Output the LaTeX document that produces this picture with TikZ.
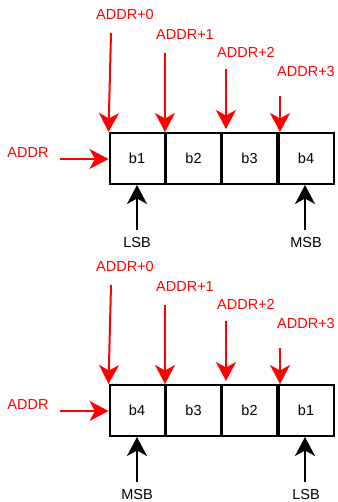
\documentclass[tikz,border=0pt]{standalone}
\usepackage{fontspec}
\setmainfont{Liberation Sans}
\usetikzlibrary{arrows.meta}
\tikzset{
  cell/.style={draw=black, fill=white, line width=2pt, minimum width=55pt, minimum height=51pt, inner sep=0pt, font=\fontsize{14.5}{16}\selectfont},
  redlbl/.style={text=red, font=\fontsize{14.5}{16}\selectfont, inner sep=0pt},
  blklbl/.style={text=black, font=\fontsize{14.5}{16}\selectfont, inner sep=0pt},
  redarr/.style={draw=red, line width=2pt, -{Stealth[length=19pt,width=20pt,inset=5.5pt]}},
  blkarr/.style={draw=black, line width=2pt, -{Stealth[length=19pt,width=20pt,inset=5.5pt]}}
}
\begin{document}
\begin{tikzpicture}[x=1pt,y=-1pt]
\useasboundingbox (0,0) rectangle (337,502);
% ---------- top row ----------
\node[cell] (t1) at (137,158.5) {b1};
\node[cell] (t2) at (193.5,158.5) {b2};
\node[cell] (t3) at (249.5,158.5) {b3};
\node[cell] (t4) at (306,158.5) {b4};
\node[redlbl] (tl0) at (125,15) {ADDR+0};
\node[redlbl] (tl1) at (185,35) {ADDR+1};
\node[redlbl] (tl2) at (246,52) {ADDR+2};
\node[redlbl] (tl3) at (306,72) {ADDR+3};
\node[redlbl] (tla) at (28,153) {ADDR};
\coordinate (ts0) at (111,33);
\coordinate (ts1) at (165,53);
\coordinate (ts2) at (226,69);
\coordinate (te2) at (226,129);
\coordinate (ts3) at (280,96);
\coordinate (tsa) at (60,159);
\draw[redarr] (ts0) -- (t1.north west);
\draw[redarr] (ts1) -- (ts1 |- t2.north);
\draw[redarr] (ts2) -- (te2);
\draw[redarr] (ts3) -- (ts3 |- t4.north);
\draw[redarr] (tsa) -- (tsa -| t1.west);
\node[blklbl] (tlsb) at (137,243) {LSB};
\node[blklbl] (tmsb) at (306,243) {MSB};
\coordinate (tbs1) at (137,230);
\coordinate (tbs2) at (305,230);
\draw[blkarr] (tbs1) -- (tbs1 |- t1.south);
\draw[blkarr] (tbs2) -- (tbs2 |- t4.south);
% ---------- bottom row ----------
\begin{scope}[yshift=-252pt]
\node[cell] (u1) at (137,158.5) {b4};
\node[cell] (u2) at (193.5,158.5) {b3};
\node[cell] (u3) at (249.5,158.5) {b2};
\node[cell] (u4) at (306,158.5) {b1};
\node[redlbl] (ul0) at (125,15) {ADDR+0};
\node[redlbl] (ul1) at (185,35) {ADDR+1};
\node[redlbl] (ul2) at (246,52) {ADDR+2};
\node[redlbl] (ul3) at (306,72) {ADDR+3};
\node[redlbl] (ula) at (28,153) {ADDR};
\coordinate (us0) at (111,33);
\coordinate (us1) at (165,53);
\coordinate (us2) at (226,69);
\coordinate (ue2) at (226,129);
\coordinate (us3) at (280,96);
\coordinate (usa) at (60,159);
\draw[redarr] (us0) -- (u1.north west);
\draw[redarr] (us1) -- (us1 |- u2.north);
\draw[redarr] (us2) -- (ue2);
\draw[redarr] (us3) -- (us3 |- u4.north);
\draw[redarr] (usa) -- (usa -| u1.west);
\node[blklbl] (umsb) at (137,243) {MSB};
\node[blklbl] (ulsb) at (306,243) {LSB};
\coordinate (ubs1) at (137,230);
\coordinate (ubs2) at (305,230);
\draw[blkarr] (ubs1) -- (ubs1 |- u1.south);
\draw[blkarr] (ubs2) -- (ubs2 |- u4.south);
\end{scope}
\end{tikzpicture}
\end{document}
